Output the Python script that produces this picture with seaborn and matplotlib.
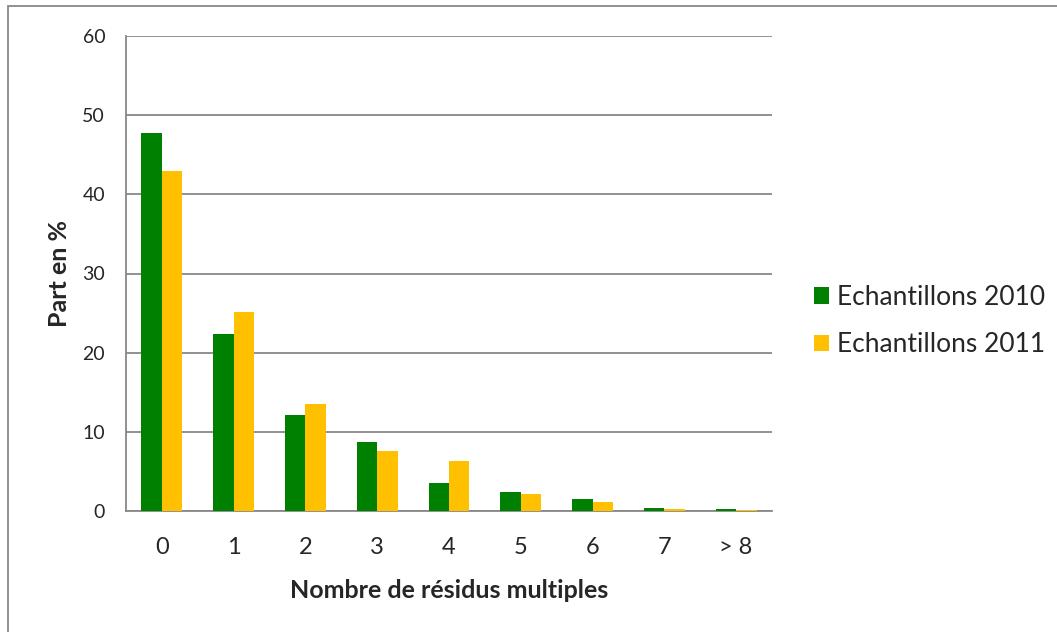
import matplotlib
matplotlib.use("Agg")
import matplotlib.pyplot as plt
import seaborn as sns
import pandas as pd
from matplotlib.patches import Rectangle

categories = ["0", "1", "2", "3", "4", "5", "6", "7", "> 8"]
values_2010 = [47.8, 22.4, 12.1, 8.7, 3.5, 2.4, 1.5, 0.4, 0.3]
values_2011 = [42.9, 25.1, 13.5, 7.6, 6.3, 2.2, 1.1, 0.2, 0.1]
series_names = ["Echantillons 2010", "Echantillons 2011"]
colors = ["#008000", "#FFC000"]
yticks = [0, 10, 20, 30, 40, 50, 60]

df = pd.DataFrame({
    "cat": categories * 2,
    "val": values_2010 + values_2011,
    "serie": [series_names[0]] * len(categories) + [series_names[1]] * len(categories),
})

sns.set_style("white")
plt.rcParams['font.family'] = ['Lato', 'DejaVu Sans']

W, H = 1057, 632
fig = plt.figure(figsize=(W / 100, H / 100), dpi=100)
ax = fig.add_axes([126 / W, 1 - 511 / H, (772 - 126) / W, (511 - 36) / H])

sns.barplot(data=df, x="cat", y="val", hue="serie", palette=colors, order=categories,
            hue_order=series_names, width=0.57, saturation=1, ax=ax, errorbar=None,
            edgecolor="none", zorder=3)

ax.set_ylim(0, 60)
ax.set_xlim(-0.5, len(categories) - 0.5)
ax.set_yticks(yticks)
ax.set_yticklabels([str(t) for t in yticks], fontsize=14)
ax.yaxis.grid(True, color="#888888", linewidth=1.3, zorder=0)
ax.set_axisbelow(True)

ax.set_xticks(range(len(categories)))
ax.set_xticklabels(categories, fontsize=17)
ax.set_xticks([i - 0.5 for i in range(len(categories) + 1)], minor=True)
ax.tick_params(axis="x", which="major", length=0, pad=19)
ax.tick_params(axis="x", which="minor", length=6.5, width=1.3, color="#888888", direction="out")
ax.tick_params(axis="y", length=5, width=1.3, color="#888888", direction="out", pad=10)

for s in ["top", "right"]:
    ax.spines[s].set_visible(False)
for s in ["left", "bottom"]:
    ax.spines[s].set_color("#888888")
    ax.spines[s].set_linewidth(1.3)

ax.set_xlabel("Nombre de résidus multiples", fontsize=18, fontweight="bold")
ax.xaxis.label.set_va("center")
ax.xaxis.set_label_coords(0.5, (511 - 590) / 475)
ax.set_ylabel("Part en %", fontsize=18, fontweight="bold")
ax.yaxis.set_label_coords((71 - 126) / 646, 0.5)

ax.legend(loc="center left", bbox_to_anchor=(814 / W, 1 - 321 / H),
          bbox_transform=fig.transFigure, frameon=False, fontsize=19,
          handlelength=0.57, handleheight=0.57, handletextpad=0.3, labelspacing=0.85,
          borderpad=0, borderaxespad=0)

fig.patches.append(Rectangle((8 / W, -0.1), 1.2, (1 - 6 / H) + 0.1,
                             transform=fig.transFigure, fill=False, edgecolor="#888888",
                             linewidth=1.3))

fig.savefig("out.png", dpi=100, facecolor="white")
